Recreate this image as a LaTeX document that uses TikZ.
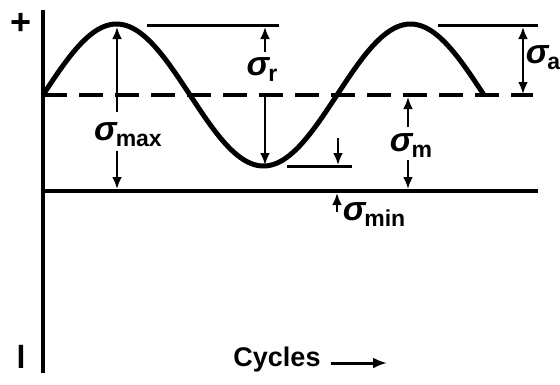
\documentclass[tikz,border=0pt]{standalone}
\usepackage{fontspec}
\setmainfont{Liberation Sans}
\usetikzlibrary{arrows.meta}
\newcommand{\sgl}[1]{{\fontsize{34}{34}\selectfont\itshape σ}\kern-1pt\raisebox{-6pt}{\fontsize{23}{23}\selectfont\bfseries #1}}
\begin{document}
\begin{tikzpicture}[x=1pt,y=-1pt,
  axisln/.style={line width=3.5pt},
  guide/.style={line width=3pt},
  dim/.style={line width=2.6pt,-{Latex[length=12pt,width=10pt]}},
  dimboth/.style={line width=2.6pt,{Latex[length=12pt,width=10pt]}-{Latex[length=12pt,width=10pt]}},
  lab/.style={inner sep=0pt,font=\bfseries}]
\useasboundingbox (0,0) rectangle (560,384);
% axes
\coordinate (atop) at (43,10);
\coordinate (abot) at (43,373);
\draw[axisln] (atop) -- (abot);
\node[lab,font=\bfseries\fontsize{36}{36}\selectfont] (plus) at (21,24) {+};
\node[lab,font=\bfseries\fontsize{32}{32}\selectfont] (minus) at (21,357) {l};
% mean line
\coordinate (m0) at (43,95);
\coordinate (m1) at (533,95);
\draw[line width=3.5pt,dash pattern=on 24pt off 12pt] (m0) -- (m1);
% zero line
\coordinate (z0) at (43,191);
\coordinate (z1) at (538,191);
\draw[axisln] (z0) -- (z1);
% sine wave
\draw[line width=5pt,line join=round] plot[domain=0:540,samples=160,smooth] ({43+0.81667*\x},{95-71*sin(\x)});
% guide lines
\coordinate (t0) at (147,25); \coordinate (t1) at (279,25);
\draw[guide] (t0) -- (t1);
\coordinate (u0) at (438,25); \coordinate (u1) at (538,25);
\draw[guide] (u0) -- (u1);
\coordinate (b0) at (287,166); \coordinate (b1) at (352,166);
\draw[guide] (b0) -- (b1);
% sigma max
\node[lab] (smax) at (128,135) {\sgl{max}};
\coordinate (smaxA) at (117,112); \coordinate (smaxB) at (117,27);
\draw[dim] (smaxA) -- (smaxB);
\coordinate (smaxC) at (117,151); \coordinate (smaxD) at (117,189);
\draw[dim] (smaxC) -- (smaxD);
% sigma r
\node[lab] (sr) at (262,70) {\sgl{r}};
\coordinate (srA) at (265,52); \coordinate (srB) at (265,27);
\draw[dim] (srA) -- (srB);
\coordinate (srC) at (265,96); \coordinate (srD) at (265,165);
\draw[dim] (srC) -- (srD);
% sigma a
\node[lab] (sa) at (543,58) {\sgl{a}};
\coordinate (saA) at (523,27); \coordinate (saB) at (523,94);
\draw[dimboth] (saA) -- (saB);
% sigma m
\node[lab] (sm) at (411,146) {\sgl{m}};
\coordinate (smA) at (408,127); \coordinate (smB) at (408,97);
\draw[dim] (smA) -- (smB);
\coordinate (smC) at (408,160); \coordinate (smD) at (408,189);
\draw[dim] (smC) -- (smD);
% small arrow at trough
\coordinate (trA) at (338,138); \coordinate (trB) at (338,165);
\draw[dim] (trA) -- (trB);
% sigma min
\node[lab] (smin) at (374,215) {\sgl{min}};
\coordinate (sminA) at (337,212); \coordinate (sminB) at (337,193);
\draw[dim] (sminA) -- (sminB);
% cycles
\node[lab,font=\bfseries\fontsize{27}{27}\selectfont] (cyc) at (277,360) {Cycles};
\coordinate (cycA) at (331,363); \coordinate (cycB) at (387,363);
\draw[line width=3pt,-{Latex[length=14pt,width=11pt]}] (cycA) -- (cycB);
\end{tikzpicture}
\end{document}
